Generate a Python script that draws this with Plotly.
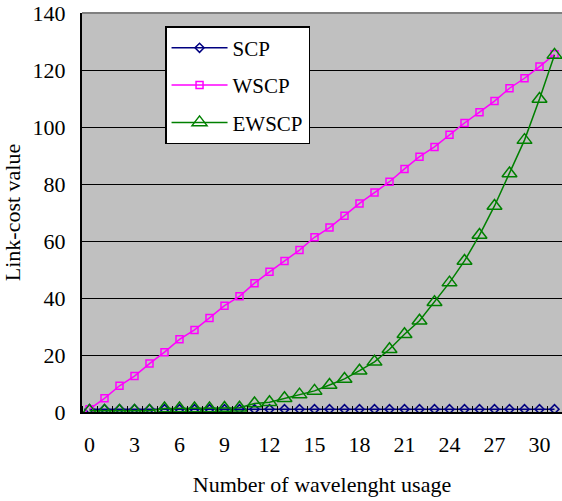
import plotly.graph_objects as go

x_vals = list(range(32))
scp = [1.0] * 32
wscp = [1, 4.8, 9.2, 12.6, 17, 21, 25.5, 28.8, 33, 37.3, 40.6, 45.2, 49.2, 53, 56.8, 61.3,
        64.7, 68.9, 73.2, 77, 80.8, 85.3, 89.6, 93, 97.3, 101.4, 105.2, 109.1, 113.6, 117.1,
        121.2, 125.5]
ewscp = [0.4, 0.4, 0.4, 0.4, 0.4, 1.2, 1.2, 1.2, 1.2, 1.4, 1.5, 3, 3.4, 4.8, 6.1, 7.4,
         9.5, 11.6, 14.5, 17.6, 22, 27.3, 32, 38.5, 45.4, 53, 62.1, 72.3, 83.7, 95.4,
         109.8, 125.3]
x_ticks = list(range(0, 31, 3))
y_ticks = list(range(0, 141, 20))

FONT = "Liberation Serif"

fig = go.Figure()
fig.add_trace(go.Scatter(x=x_vals, y=scp, name="SCP", mode="lines+markers", legendgroup="a",
                         line=dict(color="#000080", width=1.5),
                         marker=dict(symbol="diamond-open", size=7, color="#000080",
                                     line=dict(width=1.5, color="#000080"))))
fig.add_trace(go.Scatter(x=x_vals, y=wscp, name="WSCP", mode="lines+markers", legendgroup="b",
                         line=dict(color="#FF00FF", width=1.5),
                         marker=dict(symbol="square-open", size=7, color="#FF00FF",
                                     line=dict(width=1.5, color="#FF00FF"))))
fig.add_trace(go.Scatter(x=x_vals, y=ewscp, name="EWSCP", mode="lines+markers", legendgroup="c",
                         line=dict(color="#008000", width=1.5),
                         marker=dict(symbol="triangle-up-open", size=13, color="#008000",
                                     line=dict(width=1.5, color="#008000"))))

fig.update_layout(
    width=562, height=501,
    margin=dict(l=82, r=0, t=13, b=89),
    paper_bgcolor="white",
    plot_bgcolor="#C0C0C0",
    font=dict(family=FONT, size=22, color="black"),
    showlegend=True,
    legend=dict(x=0.173, y=0.967, xanchor="left", yanchor="top",
                bgcolor="white", bordercolor="black", borderwidth=1.5,
                font=dict(family=FONT, size=21, color="black"),
                traceorder="grouped", tracegroupgap=7, itemwidth=56),
    shapes=[dict(type="line", xref="paper", yref="paper", x0=0, x1=1, y0=1, y1=1,
                 line=dict(color="#808080", width=2))],
)
fig.update_xaxes(
    range=[-0.5, 31.5], tickvals=x_ticks, ticktext=[str(v) for v in x_ticks],
    ticks="", showgrid=False, zeroline=False,
    showline=True, linecolor="black", linewidth=2,
    ticklabelstandoff=12,
    minor=dict(tickvals=[k + 0.5 for k in range(-1, 32)], ticks="inside", ticklen=6,
               tickcolor="black", tickwidth=1, showgrid=False),
    title=dict(text="Number of wavelenght usage", standoff=20,
               font=dict(family=FONT, size=22)),
)
fig.update_yaxes(
    range=[0, 140], tickvals=y_ticks, ticks="inside", ticklen=6, tickcolor="black",
    showgrid=True, gridcolor="black", gridwidth=1.2, zeroline=False,
    showline=True, linecolor="black", linewidth=2, ticklabelstandoff=10,
    title=dict(text="Link-cost value", standoff=12, font=dict(family=FONT, size=22)),
)

fig.write_html("out.html")
